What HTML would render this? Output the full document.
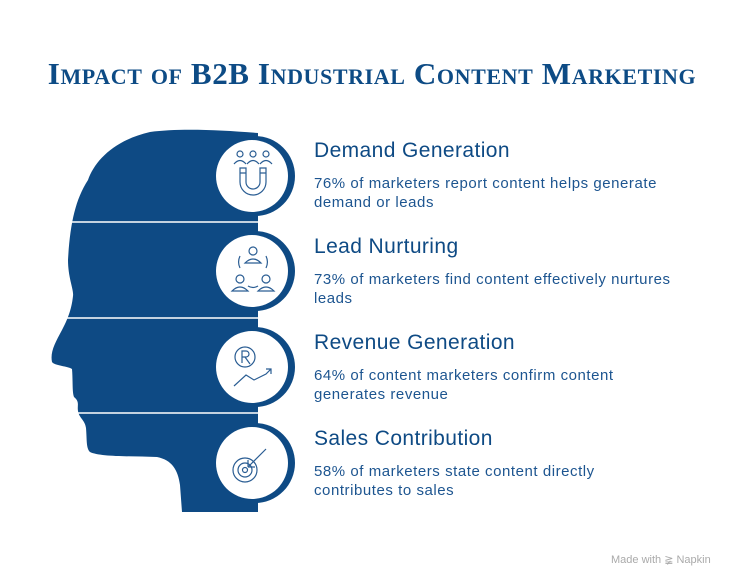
<!DOCTYPE html>
<html><head><meta charset="utf-8"><style>
body{margin:0;width:744px;height:588px;background:#fff;position:relative;overflow:hidden;font-family:"Liberation Sans",sans-serif;}
.t{position:absolute;left:0;width:744px;top:56px;text-align:center;font-family:"Liberation Serif",serif;font-weight:bold;font-variant:small-caps;font-size:31px;color:#0d4b85;letter-spacing:0.6px;}
.h{position:absolute;left:314px;font-size:21px;letter-spacing:0.4px;color:#0e4a84;}
.b{position:absolute;left:314px;font-size:15px;letter-spacing:0.55px;line-height:19px;color:#1d5590;width:420px;}
.n{position:absolute;left:611px;top:553px;font-size:11px;color:#aaa;}
</style></head><body>
<div class="t">Impact of B2B Industrial Content Marketing</div>
<svg width="744" height="588" style="position:absolute;left:0;top:0">
<path d="M258 133 C220 130 180 128 150 132 C115 140 95 160 88 180 C75 200 70 225 68 260 C68 278 74 290 73 296 C72 305 70 315 62 330 C55 343 50 352 52 362 C55 366 68 366 72 369 C73 380 72 392 74 397 C80 402 77 405 78 411 C79 418 85 420 86 428 C87 440 86 448 90 452 C100 457 130 456 157 457 C172 460 178 470 180 485 L182 512 L258 512 Z" fill="#0e4a84"/>
<g stroke="#fff" stroke-width="1.5"><line x1="60" y1="222" x2="258" y2="222"/><line x1="50" y1="318" x2="258" y2="318"/><line x1="60" y1="413" x2="258" y2="413"/></g>
<g fill="#0e4a84"><circle cx="255" cy="176" r="40"/><circle cx="255" cy="271" r="40"/><circle cx="255" cy="367" r="40"/><circle cx="255" cy="463" r="40"/></g>
<g fill="#fff"><circle cx="252" cy="176" r="36"/><circle cx="252" cy="271" r="36"/><circle cx="252" cy="367" r="36"/><circle cx="252" cy="463" r="36"/></g>
<g fill="none" stroke="#2a5d93" stroke-width="1.2">
<circle cx="240" cy="154" r="3"/><circle cx="253" cy="154" r="3"/><circle cx="266" cy="154" r="3"/>
<path d="M234 164 q6-7 12 0 M247 164 q6-7 12 0 M260 164 q6-7 12 0"/>
<path d="M240 168 v14 a13 13 0 0 0 26 0 v-14 h-6 v14 a7 7 0 0 1 -14 0 v-14 z M240 173h6 M260 173h6"/>
<circle cx="253" cy="251" r="4"/><path d="M245 263 q8-8 16 0 z M240 256 a14 14 0 0 0 0 12 M266 256 a14 14 0 0 1 0 12"/>
<circle cx="240" cy="279" r="4"/><path d="M232 291 q8-8 16 0 z"/><circle cx="266" cy="279" r="4"/><path d="M258 291 q8-8 16 0 z M248 286 q5 3 10 0"/>
<circle cx="245" cy="357" r="10"/><path d="M242 363 v-12 h4 a3 3 0 0 1 0 6 h-4 M245 357 l5 7"/>
<path d="M234 386 l12-11 l8 5 l12-6 l5-5 m-5 0 h5 v5"/>
<circle cx="245" cy="470" r="12"/><circle cx="245" cy="470" r="7"/><circle cx="245" cy="470" r="2.5"/>
<path d="M248 467 l18-18 M248 467 h7 M248 467 v-7"/>
</g>
</svg>
<div class="h" style="top:139px">Demand Generation</div>
<div class="b" style="top:174px">76% of marketers report content helps generate<br>demand or leads</div>
<div class="h" style="top:235px">Lead Nurturing</div>
<div class="b" style="top:270px">73% of marketers find content effectively nurtures<br>leads</div>
<div class="h" style="top:331px">Revenue Generation</div>
<div class="b" style="top:366px">64% of content marketers confirm content<br>generates revenue</div>
<div class="h" style="top:427px">Sales Contribution</div>
<div class="b" style="top:462px">58% of marketers state content directly<br>contributes to sales</div>
<div class="n">Made with ≩ Napkin</div>
</body></html>
